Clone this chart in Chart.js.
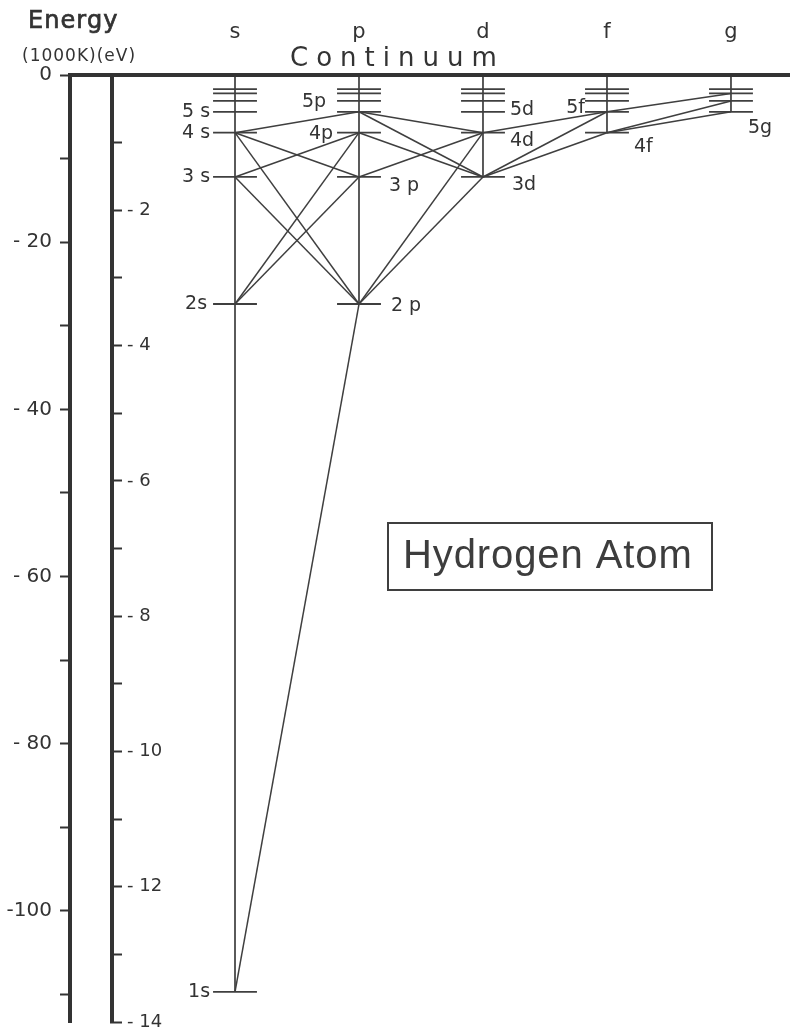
<!DOCTYPE html>
<html>
<head>
<meta charset="utf-8">
<script src="https://cdn.jsdelivr.net/npm/chart.js@4.4.1/dist/chart.umd.min.js"></script>
<style>
html,body{margin:0;padding:0;background:#fff;}
#wrap{width:790px;height:1034px;position:relative;}
canvas{display:block;}
</style>
</head>
<body>
<div id="wrap"><canvas id="c" width="790" height="1034"></canvas></div>
<script>
// ---------------- DATA ----------------
const ORBITALS = ['s', 'p', 'd', 'f', 'g'];
const LEVEL_N = [1, 2, 3, 4, 5, 6, 7, 8];
const LEVEL_ENERGY = [-109.7, -27.4, -12.2, -6.9, -4.4, -3.1, -2.2, -1.7]; // 1000 cm^-1 (1000K)
const LOWEST_N = [1, 2, 3, 4, 5];   // lowest level per orbital column
const HIGHEST_N = 8;
const CONTINUUM_ENERGY = 0;
const TRANSITIONS = [
  '1s-2p', '2s-3p', '2s-4p', '3s-2p', '3s-4p', '4s-2p', '4s-3p', '4s-5p',
  '2p-3d', '2p-4d', '3p-4d', '4p-3d', '5p-3d', '5p-4d',
  '3d-4f', '3d-5f', '4d-5f',
  '4f-5g', '4f-6g', '5f-7g'
];
const LABELLED_LEVELS = ['1s', '2s', '3s', '4s', '5s', '2p', '3p', '4p', '5p', '3d', '4d', '5d', '4f', '5f', '5g'];
const LEVEL_LABEL_TEXT = ['1s', '2s', '3 s', '4 s', '5 s', '2 p', '3 p', '4p', '5p', '3d', '4d', '5d', '4f', '5f', '5g'];
const KK_TICK_VALUES = [0, -10, -20, -30, -40, -50, -60, -70, -80, -90, -100, -110];
const KK_TICK_LABELS = ['0', '', '- 20', '', '- 40', '', '- 60', '', '- 80', '', '-100', ''];
const EV_TICK_VALUES = [0, -1, -2, -3, -4, -5, -6, -7, -8, -9, -10, -11, -12, -13, -14];
const EV_TICK_LABELS = ['', '', '- 2', '', '- 4', '', '- 6', '', '- 8', '', '- 10', '', '- 12', '', '- 14'];
const KK_RANGE = [-113.3, 0];
const EV_RANGE = [-14, 0];

// ---------------- LAYOUT / STYLE ----------------
const X_RANGE = [-0.992, 4.476];
const HALF_LEVEL = 0.177;       // half width of a level tick, in column units
const INK = '#333333';
const LINE = '#3f3f3f';
const AXIS = '#333333';
const FONT = '"DejaVu Sans", sans-serif';
// label placement: side, gap from level end (px), vertical offset (px)
const LABEL_PLACE = {
  '1s': ['L', 3, 0], '2s': ['L', 6, 0], '3s': ['L', 3, 0], '4s': ['L', 3, 0], '5s': ['L', 3, 0],
  '2p': ['R', 10, 2], '3p': ['R', 8, 9], '4p': ['L', 4, 1], '5p': ['L', 11, -10],
  '3d': ['R', 7, 8], '4d': ['R', 5, 8], '5d': ['R', 5, -2],
  '4f': ['R', 5, 14], '5f': ['L', 0, -4],
  '5g': ['R', -5, 16]
};

function energyOf(n) { return LEVEL_ENERGY[LEVEL_N.indexOf(n)]; }
function parseLevel(code) {
  return { n: parseInt(code, 10), l: ORBITALS.indexOf(code.slice(-1)) };
}

const datasets = [];
function seg(a, b, width) {
  datasets.push({
    data: [a, b], showLine: true, borderColor: LINE, borderWidth: width,
    pointRadius: 0, pointHoverRadius: 0, fill: false, tension: 0,
    xAxisID: 'x', yAxisID: 'yK', borderCapStyle: 'butt'
  });
}
// vertical column lines
ORBITALS.forEach((o, i) => {
  seg({ x: i, y: CONTINUUM_ENERGY }, { x: i, y: energyOf(LOWEST_N[i]) }, 1.7);
});
// level ticks
ORBITALS.forEach((o, i) => {
  LEVEL_N.forEach(n => {
    if (n < LOWEST_N[i] || n > HIGHEST_N) return;
    const e = energyOf(n);
    seg({ x: i - HALF_LEVEL, y: e }, { x: i + HALF_LEVEL, y: e }, 1.8);
  });
});
// transitions
TRANSITIONS.forEach(t => {
  const [a, b] = t.split('-').map(parseLevel);
  seg({ x: a.l, y: energyOf(a.n) }, { x: b.l, y: energyOf(b.n) }, 1.5);
});

function spacedText(ctx, text, x, y, sp, stroke) {
  let cx = x;
  for (const ch of text) {
    ctx.fillText(ch, cx, y);
    if (stroke) ctx.strokeText(ch, cx, y);
    cx += ctx.measureText(ch).width + sp;
  }
}

function noPad(s) { s.paddingTop = 0; s.paddingBottom = 0; }

const decor = {
  id: 'decor',
  afterDraw(chart) {
    const ctx = chart.ctx;
    const xs = chart.scales.x, ys = chart.scales.yK;
    const area = chart.chartArea;
    ctx.save();
    // continuum line
    const yc = ys.getPixelForValue(CONTINUUM_ENERGY);
    ctx.strokeStyle = AXIS; ctx.lineWidth = 4;
    ctx.beginPath(); ctx.moveTo(ys.right - 2, yc); ctx.lineTo(area.right, yc); ctx.stroke();

    // level labels
    ctx.fillStyle = INK;
    ctx.font = '19px ' + FONT;
    ctx.textBaseline = 'middle';
    LABELLED_LEVELS.forEach((code, k) => {
      const { n, l } = parseLevel(code);
      const [side, gap, dy] = LABEL_PLACE[code];
      const y = ys.getPixelForValue(energyOf(n)) + dy;
      if (side === 'L') {
        ctx.textAlign = 'right';
        ctx.fillText(LEVEL_LABEL_TEXT[k], xs.getPixelForValue(l - HALF_LEVEL) - gap, y);
      } else {
        ctx.textAlign = 'left';
        ctx.fillText(LEVEL_LABEL_TEXT[k], xs.getPixelForValue(l + HALF_LEVEL) + gap, y);
      }
    });

    // titles
    ctx.textAlign = 'left';
    ctx.textBaseline = 'alphabetic';
    ctx.font = '24px ' + FONT;
    ctx.strokeStyle = INK; ctx.lineWidth = 0.7;
    spacedText(ctx, 'Energy', 28, 28, 1, true);
    ctx.font = '17px ' + FONT;
    spacedText(ctx, '(1000K)(eV)', 22, 61, 1, false);
    ctx.font = '26px ' + FONT;
    spacedText(ctx, 'Continuum', 290, 66, 8, false);

    // boxed label
    ctx.strokeStyle = LINE; ctx.lineWidth = 2;
    ctx.strokeRect(388, 523, 324, 67);
    ctx.fillStyle = '#3d3d3d';
    ctx.font = '40px "Liberation Sans", Arial, sans-serif';
    spacedText(ctx, 'Hydrogen Atom', 403, 568, 0.9, false);
    ctx.restore();
  }
};

new Chart(document.getElementById('c'), {
  type: 'scatter',
  data: { datasets },
  options: {
    responsive: false,
    devicePixelRatio: 1,
    animation: false,
    events: [],
    layout: { padding: { left: 0, right: 0, top: 0, bottom: 12 } },
    plugins: { legend: { display: false }, tooltip: { enabled: false }, title: { display: false } },
    scales: {
      x: {
        type: 'linear', position: 'top', min: X_RANGE[0], max: X_RANGE[1],
        afterBuildTicks: s => { s.ticks = ORBITALS.map((o, i) => ({ value: i })); },
        afterFit: s => { s.height = 75; s.paddingLeft = 0; s.paddingRight = 0; },
        ticks: {
          autoSkip: false, maxRotation: 0, padding: 30, color: INK,
          font: { family: FONT, size: 21 },
          callback: v => ORBITALS[v] ?? ''
        },
        grid: { display: false, drawTicks: false },
        border: { display: false }
      },
      yK: {
        type: 'linear', position: 'left', weight: 2, min: KK_RANGE[0], max: KK_RANGE[1],
        afterBuildTicks: s => { s.ticks = KK_TICK_VALUES.map(v => ({ value: v })); },
        afterFit: s => { s.width = 70; noPad(s); },
        ticks: {
          autoSkip: false, padding: 8, color: INK,
          font: { family: FONT, size: 20 },
          callback: v => KK_TICK_LABELS[KK_TICK_VALUES.indexOf(v)] ?? ''
        },
        grid: { display: true, drawOnChartArea: false, drawTicks: true, tickLength: 10, tickWidth: 2, tickColor: AXIS },
        border: { display: true, width: 4, color: AXIS }
      },
      yE: {
        type: 'linear', position: 'left', weight: 1, min: EV_RANGE[0], max: EV_RANGE[1],
        afterBuildTicks: s => { s.ticks = EV_TICK_VALUES.map(v => ({ value: v })); },
        afterFit: s => { s.width = 42; noPad(s); },
        ticks: {
          autoSkip: false, mirror: true, padding: 15, color: INK,
          font: { family: FONT, size: 18 },
          callback: v => EV_TICK_LABELS[EV_TICK_VALUES.indexOf(v)] ?? ''
        },
        grid: { display: true, drawOnChartArea: false, drawTicks: true, tickLength: -10, tickWidth: 2, tickColor: AXIS },
        border: { display: true, width: 4, color: AXIS }
      }
    }
  },
  plugins: [decor]
});
</script>
</body>
</html>
